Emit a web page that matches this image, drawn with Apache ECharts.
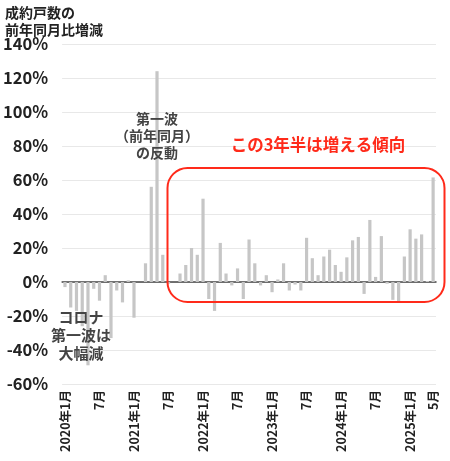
<!DOCTYPE html>
<html>
<head>
<meta charset="utf-8">
<script src="https://cdn.jsdelivr.net/npm/echarts@6/dist/echarts.min.js"></script>
<style>
  html, body { margin: 0; padding: 0; background: #fff; }
  #chart { width: 450px; height: 461px; }
</style>
</head>
<body>
<div id="chart"></div>
<script>
// 月（横軸のカテゴリ）
var months = [
    '2020年1月','2月','3月','4月','5月','6月','7月','8月','9月','10月','11月','12月',
    '2021年1月','2月','3月','4月','5月','6月','7月','8月','9月','10月','11月','12月',
    '2022年1月','2月','3月','4月','5月','6月','7月','8月','9月','10月','11月','12月',
    '2023年1月','2月','3月','4月','5月','6月','7月','8月','9月','10月','11月','12月',
    '2024年1月','2月','3月','4月','5月','6月','7月','8月','9月','10月','11月','12月',
    '2025年1月','2月','3月','4月','5月'
];
// 成約戸数の前年同月比増減（%）
var change2020 = [-3, -15, -17, -26, -49, -4, -11, 4, -33, -5, -12, 1];
var change2021 = [-21, 0, 11, 56, 124, 16, -1, 0, 5, 10, 20, 16];
var change2022 = [49, -10, -17, 23, 5, -2, 8, -10, 25, 11, -2, 4];
var change2023 = [-6, 1.5, 11, -5, -1.5, -5, 26, 14, 4, 15, 19, 10];
var change2024 = [6, 14.5, 24.5, 26.5, -7, 36.5, 3, 27, -1, -10.5, -11.5, 15];
var change2025 = [31, 25.5, 28, 0.6, 61.5];
var yTicks = [-60, -40, -20, 0, 20, 40, 60, 80, 100, 120, 140];

var values = [].concat(change2020, change2021, change2022, change2023, change2024, change2025);

var FONT = '"Noto Sans CJK JP", "Noto Sans", sans-serif';
var myChart = echarts.init(document.getElementById('chart'));

option = {
    animation: false,
    grid: {
        left: 60,
        right: 14,
        top: 44,
        bottom: 77
    },
    xAxis: {
        type: 'category',
        data: months,
        axisLine: { lineStyle: { color: '#444', width: 1.5 } },
        axisTick: { show: false },
        axisLabel: {
            rotate: 90,
            margin: 6,
            color: '#222',
            fontSize: 12.5,
            fontWeight: 'bold',
            fontFamily: FONT,
            //1月・7月・最終月だけ表示
            interval: function (idx, name) {
                return name.indexOf('年') > -1 || name === '7月' || idx === months.length - 1;
            }
        }
    },
    yAxis: {
        type: 'value',
        min: yTicks[0],
        max: yTicks[yTicks.length - 1],
        interval: 20,
        axisLine: { show: false },
        axisTick: { show: false },
        axisLabel: {
            margin: 14,
            color: '#222',
            fontSize: 16.5,
            fontWeight: 'bold',
            fontFamily: FONT,
            formatter: '{value}%'
        },
        splitLine: { lineStyle: { color: '#e8e8e8', width: 1 } }
    },
    series: [{
        type: 'bar',
        data: values,
        barWidth: 3.2,
        itemStyle: { color: '#c6c6c6' }
    }],
    graphic: [
        {
            type: 'text',
            left: 5, top: 4,
            z: 100,
            style: {
                text: '成約戸数の\n前年同月比増減',
                fill: '#222',
                font: 'bold 14px ' + FONT,
                align: 'center',
                lineHeight: 17,
                x: 50
            }
        },
        {
            type: 'text',
            x: 157, y: 110,
            z: 100,
            style: {
                text: '第一波\n（前年同月）\nの反動',
                fill: '#444',
                font: 'bold 14px ' + FONT,
                align: 'center',
                lineHeight: 17
            }
        },
        {
            type: 'text',
            x: 81, y: 308,
            z: 100,
            style: {
                text: 'コロナ\n第一波は\n大幅減',
                fill: '#444',
                font: 'bold 15px ' + FONT,
                align: 'center',
                lineHeight: 18
            }
        },
        {
            type: 'rect',
            shape: { x: 167.5, y: 168, width: 277, height: 134, r: 20 },
            style: { fill: 'none', stroke: '#ff2a1a', lineWidth: 2 },
            z: 100
        },
        {
            type: 'text',
            x: 318, y: 136,
            z: 100,
            style: {
                text: 'この3年半は増える傾向',
                fill: '#ff2a1a',
                font: 'bold 16.5px ' + FONT,
                align: 'center'
            }
        }
    ]
};
myChart.setOption(option);
</script>
</body>
</html>
